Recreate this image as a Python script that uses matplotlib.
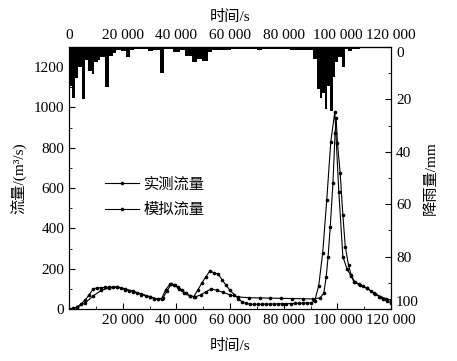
import matplotlib
matplotlib.use('Agg')
import matplotlib.pyplot as plt
from matplotlib.ticker import MultipleLocator, FuncFormatter

plt.rcParams['font.family'] = ['Liberation Serif', 'Noto Sans CJK SC']
plt.rcParams['font.size'] = 11

# rainfall bars (edges in s, depth in mm)
rain_edges = [0, 1100, 2200, 3350, 4850, 5950, 7100, 8550, 9300, 10800, 11550, 13400,
              14900, 16400, 17500, 19400, 21250, 22750, 24250, 29450, 31300, 33900,
              35400, 38750, 41350, 43250, 45850, 47700, 49550, 51800, 53300, 59250,
              60400, 70050, 71900, 82350, 86100, 90950, 92450, 93550, 94300, 95400,
              96150, 97300, 98400, 99150, 100250, 101750, 102850, 104000, 105500,
              107350, 108450, 120000]
rain_mm = [15, 19.5, 12, 7.5, 20, 5, 9, 10.3, 5.7, 5, 4, 15.3, 3.3, 2.3, 1.1, 1.6, 3.8,
           1.1, 0.9, 1.5, 1.1, 10, 0.9, 1.9, 1.3, 3.3, 5.7, 4.6, 5.5, 2, 1.0, 1.3, 0.9,
           1.2, 0.9, 1.1, 1.3, 4.6, 16, 19.5, 17.5, 23.7, 15, 24.5, 11.5, 5.6, 3.8, 7.7,
           0.6, 1.4, 0.6, 0.8, 0.4]

# observed flow, every 1500 s
obs_t = [i * 1500 for i in range(81)]
obs_q = [0, 3, 10, 25, 45, 70, 100, 105, 106, 107, 108, 110, 108, 103, 96, 90, 85, 78,
         72, 66, 60, 52, 48, 52, 95, 122, 120, 108, 92, 78, 66, 62, 95, 130, 160, 190,
         178, 175, 145, 118, 92, 72, 52, 35, 28, 24, 23, 24, 24, 25, 25, 25, 26, 26, 27,
         27, 28, 28, 29, 30, 30, 40, 115, 280, 541, 830, 978, 580, 260, 200, 165, 135,
         122, 112, 103, 88, 75, 62, 50, 40, 30]

# simulated flow
sim_t = [0, 3000, 6000, 9000, 12000, 15000, 18000, 21000, 24000, 27000, 30000, 33000,
         35000, 36500, 38000, 39500, 41000, 43000, 45000, 47000, 49000, 51000, 53000,
         55000, 57500, 60000, 63000, 67000, 71000, 75000, 79000, 83000, 87000, 91000,
         93500, 94900, 95800, 96500, 97300, 98300, 99100, 99500, 100000, 101000, 102000,
         102900, 104100, 105100, 106000, 108500, 111000, 113500, 116000, 118000, 120000]
sim_q = [0, 8, 30, 65, 92, 105, 110, 100, 88, 75, 62, 50, 55, 90, 122, 118, 100, 80, 65,
         60, 70, 85, 100, 93, 82, 70, 60, 56, 55, 54, 53, 52, 51, 50, 55, 78, 160, 260,
         408, 624, 872, 946, 822, 673, 466, 309, 218, 169, 136, 119, 103, 80, 62, 52, 45]

rain_ticks = [0, 20, 40, 60, 80, 100]


def thousands(v, pos):
    return '{:,.0f}'.format(v).replace(',', ' ')


fig = plt.figure(figsize=(4.57, 3.61), dpi=100)
ax = fig.add_axes([0.151, 0.144, 0.705, 0.726])

ax.plot(obs_t, obs_q, color='black', lw=0.8, marker='o', ms=1.6, label='实测流量')
ax.plot(sim_t, sim_q, color='black', lw=0.8, marker='o', ms=1.6, label='模拟流量')

ax.set_xlim(0, 120000)
ax.set_ylim(0, 1300)
ax.xaxis.set_major_locator(MultipleLocator(20000))
ax.xaxis.set_minor_locator(MultipleLocator(10000))
ax.yaxis.set_major_locator(MultipleLocator(200))
ax.yaxis.set_minor_locator(MultipleLocator(100))
ax.xaxis.set_major_formatter(FuncFormatter(lambda v, p: '' if v == 0 else thousands(v, p)))
ax.tick_params(which='both', direction='in')
ax.tick_params(which='major', length=4)
ax.tick_params(which='minor', length=2)
ax.set_xlabel('时间/s', labelpad=9)
ax.set_ylabel('流量/(m³/s)', labelpad=5)

leg = ax.legend(loc='upper left', bbox_to_anchor=(0.07, 0.555), frameon=False,
                handlelength=2.2, handletextpad=0.3, labelspacing=0.75)

# rainfall on inverted right axis
ax2 = ax.twinx()
widths = [rain_edges[i + 1] - rain_edges[i] for i in range(len(rain_mm))]
ax2.bar(rain_edges[:-1], rain_mm, width=widths, align='edge', color='black',
        edgecolor='none')
ax2.set_ylim(100, 0)
ax2.set_yticks(rain_ticks)
ax2.yaxis.set_minor_locator(MultipleLocator(10))
ax2.tick_params(which='both', direction='in')
ax2.tick_params(which='major', length=4)
ax2.tick_params(which='minor', length=2)
ax2.set_ylabel('降雨量/mm')
rticks = ax2.yaxis.get_major_ticks()
rticks[0].label2.set_va('top')
rticks[-1].label2.set_va('bottom')

top = ax.secondary_xaxis('top')
top.xaxis.set_major_locator(MultipleLocator(20000))
top.xaxis.set_major_formatter(FuncFormatter(thousands))
top.tick_params(direction='in', length=0)
top.set_xlabel('时间/s', labelpad=6)

fig.savefig('out.png', dpi=100)
